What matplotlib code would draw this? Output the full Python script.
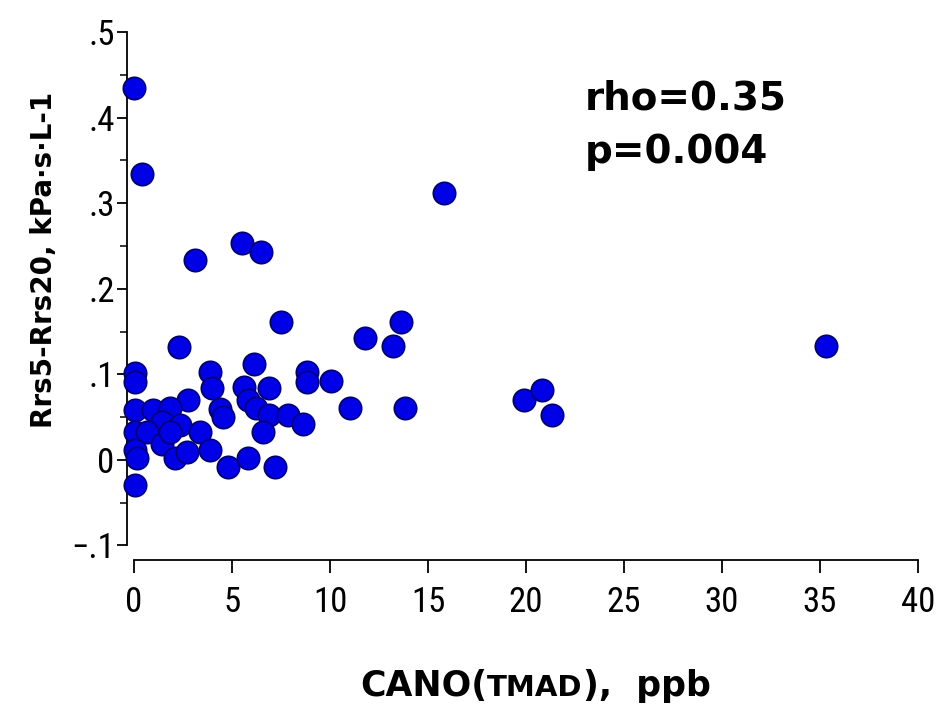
import matplotlib
matplotlib.use("Agg")
import matplotlib.pyplot as plt
from matplotlib import font_manager as fm
from matplotlib.ticker import FixedLocator

cano_ppb = [0.0, 0.4, 15.8, 5.5, 6.5, 3.1, 7.5, 11.8, 13.6, 13.2, 35.3, 2.3,
            0.05, 0.05, 3.9, 6.1, 8.8, 8.8, 10.05, 4.0, 5.6, 6.9, 2.75, 4.4,
            4.55, 5.8, 6.2, 6.9, 7.85, 8.6, 6.6, 0.05, 0.97, 1.84, 1.43, 2.35,
            3.37, 0.05, 0.66, 0.05, 1.43, 2.1, 2.7, 3.9, 4.8, 5.8, 7.2, 0.05,
            0.15, 1.84, 19.9, 20.8, 21.3, 13.8, 11.0]
rrs_diff = [0.435, 0.334, 0.312, 0.254, 0.243, 0.234, 0.161, 0.143, 0.161, 0.133,
            0.133, 0.132, 0.102, 0.091, 0.103, 0.112, 0.103, 0.091, 0.092, 0.084,
            0.085, 0.084, 0.070, 0.060, 0.050, 0.070, 0.061, 0.053, 0.053, 0.042,
            0.032, 0.058, 0.058, 0.061, 0.044, 0.041, 0.033, 0.033, 0.032, 0.012,
            0.018, 0.002, 0.009, 0.011, -0.008, 0.002, -0.008, -0.029, 0.002,
            0.033, 0.070, 0.082, 0.053, 0.061, 0.061]

x_ticks = [0, 5, 10, 15, 20, 25, 30, 35, 40]
y_ticks = [-0.1, 0, 0.1, 0.2, 0.3, 0.4, 0.5]
y_tick_labels = ["\u2212.1", "0", ".1", ".2", ".3", ".4", ".5"]


def find_font(keys, exclude=()):
    for f in fm.fontManager.ttflist:
        name = f.fname.replace(" ", "").replace("-", "").replace("_", "").lower()
        if all(k in name for k in keys) and not any(e in name for e in exclude):
            return f.fname
    return None


narrow_file = find_font(["robotocondensedregular"]) or \
    find_font(["ptsansnarrow"])
tick_fp = fm.FontProperties(fname=narrow_file, size=25) if narrow_file else \
    fm.FontProperties(family="DejaVu Sans", size=20)


def bold_fp(size):
    return fm.FontProperties(family="DejaVu Sans", weight="bold", size=size)


W, H = 938, 713
fig = plt.figure(figsize=(W / 100, H / 100), dpi=100)
left, right, top, bottom = 127, 918, 32, 560
ax = fig.add_axes([left / W, 1 - bottom / H, (right - left) / W, (bottom - top) / H])

ax.scatter(cano_ppb, rrs_diff, s=260, facecolor="#0000e6", edgecolor="#000070",
           linewidth=1.2, zorder=3, clip_on=False)

ax.set_xlim(-0.36, 40)
ax.set_ylim(-0.117, 0.5)
ax.spines["top"].set_visible(False)
ax.spines["right"].set_visible(False)
ax.spines["left"].set_bounds(-0.1, 0.5)
ax.spines["bottom"].set_bounds(0, 40)
for s in ("left", "bottom"):
    ax.spines[s].set_linewidth(1.3)

ax.xaxis.set_major_locator(FixedLocator(x_ticks))
ax.set_xticklabels([str(t) for t in x_ticks])
ax.yaxis.set_major_locator(FixedLocator(y_ticks))
ax.set_yticklabels(y_tick_labels)
for lab in ax.get_xticklabels() + ax.get_yticklabels():
    lab.set_fontproperties(tick_fp)
ax.yaxis.set_minor_locator(FixedLocator([-0.05, 0.05, 0.15, 0.25, 0.35, 0.45]))
ax.tick_params(axis="x", direction="out", length=9, width=1.3, pad=10)
ax.tick_params(axis="y", which="major", direction="out", length=7, width=1.3, pad=2)
ax.tick_params(axis="y", which="minor", direction="out", length=5, width=1.1)

ax.set_ylabel("Rrs5-Rrs20, kPa·s·L-1", fontproperties=bold_fp(20))
ax.yaxis.set_label_coords((58 - left) / (right - left), (bottom - 260) / (bottom - top))

# x label: "CANO(" big, "TMAD" small, "), ppb" big, shared baseline
renderer = fig.canvas.get_renderer()
parts = [("CANO(", 25), ("TMAD", 21), ("),  ppb", 25)]
x_px = 360
base_y = 1 - 696 / H
for txt, size in parts:
    t = fig.text(x_px / W, base_y, txt, fontproperties=bold_fp(size),
                 va="baseline", ha="left")
    bb = t.get_window_extent(renderer=renderer)
    x_px = bb.x1

fig.text(585 / W, 1 - 110 / H, "rho=0.35", fontproperties=bold_fp(28),
         va="baseline")
fig.text(585 / W, 1 - 163 / H, "p=0.004", fontproperties=bold_fp(28),
         va="baseline")

fig.savefig("out.png", dpi=100, facecolor="white")
